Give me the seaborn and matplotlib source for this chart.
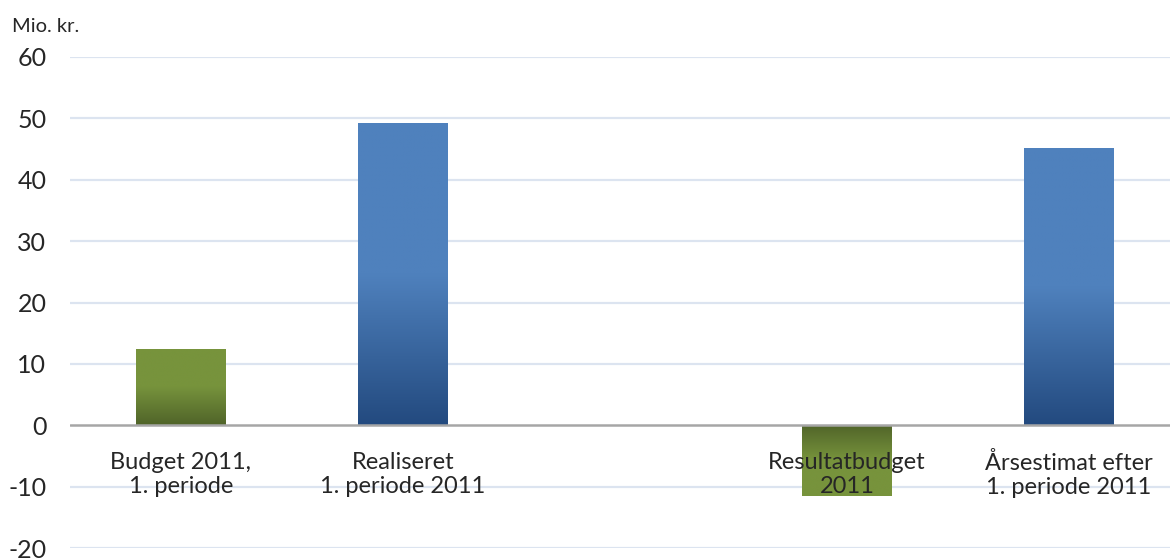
import numpy as np
import pandas as pd
import matplotlib
matplotlib.use("Agg")
import matplotlib.pyplot as plt
import matplotlib.colors as mcolors
import seaborn as sns


categories = ["Budget 2011,\n1. periode", "Realiseret\n1. periode 2011", " ",
              "Resultatbudget\n2011", "Årsestimat efter\n1. periode 2011"]
values = [12.5, 49.2, np.nan, -11.6, 45.1]
bar_group = ["budget", "realiseret", "budget", "budget", "realiseret"]

y_ticks = [-20, -10, 0, 10, 20, 30, 40, 50, 60]
unit_label = "Mio. kr."

light = {"budget": "#77933C", "realiseret": "#4F81BD"}
dark = {"budget": "#506429", "realiseret": "#234A7F"}


def add_gradients(ax, groups):
    for patch, grp in zip(ax.patches, groups):
        x0, y0 = patch.get_x(), patch.get_y()
        w, h = patch.get_width(), patch.get_height()
        if not np.isfinite(h) or h == 0:
            continue
        # t = 0 ved basislinjen, 1 ved søjlens ende
        t = np.linspace(0, 1, 256)
        mix = np.clip(t / 0.5, 0, 1)
        c_light = np.array(mcolors.to_rgb(light[grp]))
        c_dark = np.array(mcolors.to_rgb(dark[grp]))
        cols = c_dark[None, :] * (1 - mix[:, None]) + c_light[None, :] * mix[:, None]
        ybot, ytop = min(y0, y0 + h), max(y0, y0 + h)
        if h > 0:
            img = cols[::-1]
        else:
            img = cols
        im = ax.imshow(img[:, None, :], extent=(x0, x0 + w, ybot, ytop),
                       aspect="auto", zorder=patch.get_zorder(), interpolation="bilinear")
        im.set_clip_path(patch)
        patch.set_facecolor("none")


df = pd.DataFrame({"category": categories, "value": values, "group": bar_group})
df = df.dropna()

sns.set_style("white")
plt.rcParams["font.family"] = ["Lato", "DejaVu Sans"]

fig = plt.figure(figsize=(11.7, 5.6), dpi=100)
ax = fig.add_axes([70 / 1170, 12 / 560, 1100 / 1170, 491 / 560])

palette = {c: light[g] for c, g in zip(categories, bar_group)}
sns.barplot(data=df, x="category", y="value", hue="category", order=categories,
            palette=palette, width=0.405, legend=False, ax=ax, zorder=3,
            linewidth=0, errorbar=None)

add_gradients(ax, list(df["group"]))

ax.set_xlim(-0.5, 4.455)
ax.set_ylim(-20, 60)
ax.set_yticks(y_ticks)
ax.set_yticklabels([str(v) for v in y_ticks], fontsize=18)
ax.tick_params(axis="y", length=0, pad=17)
ax.set_xticks([])
ax.set_xlabel("")
ax.set_ylabel("")
for s in ax.spines.values():
    s.set_visible(False)

for v in y_ticks:
    if v == 0:
        ax.axhline(v, color="#A6A6A6", lw=1.8, zorder=4)
    else:
        ax.axhline(v, color="#DCE4F0", lw=1.6, zorder=1)

for i, lab in enumerate(categories):
    ax.text(i, -4.3, lab, ha="center", va="top", fontsize=17, linespacing=1.2, zorder=6)

fig.text(12 / 1170, 1 - 27 / 560, unit_label, fontsize=14.5, va="center", ha="left")

fig.savefig("out.png", dpi=100)
